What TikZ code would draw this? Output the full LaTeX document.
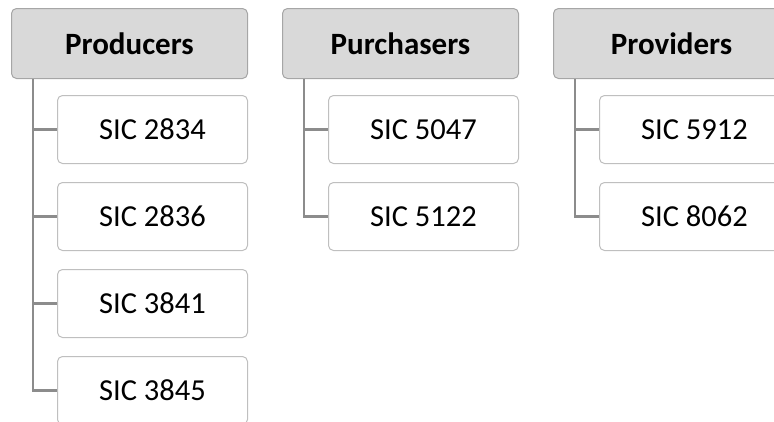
\documentclass[tikz,border=0pt]{standalone}
\usepackage{fontspec}
\setmainfont{Carlito}
\definecolor{hdrfill}{HTML}{D9D9D9}
\definecolor{hdrline}{HTML}{A6A6A6}
\definecolor{boxline}{HTML}{BFBFBF}
\definecolor{linkgray}{HTML}{8C8C8C}
\tikzset{
  hdr/.style={draw=hdrline,fill=hdrfill,rounded corners=5pt,line width=1pt,
    anchor=north west,minimum width=236pt,minimum height=70pt,inner sep=0pt,
    font=\fontsize{31}{33}\selectfont\bfseries},
  sicbox/.style={draw=boxline,fill=white,rounded corners=5pt,line width=1pt,
    anchor=north west,minimum width=190pt,minimum height=68pt,inner sep=0pt,
    font=\fontsize{30.5}{33}\selectfont},
  link/.style={draw=linkgray,line width=2.4pt}
}
\begin{document}
\begin{tikzpicture}[x=1pt,y=-1pt]
  \useasboundingbox (0,0) rectangle (774,421);
  \clip (0,0) rectangle (774,421);
  \node[hdr] (prod) at (11,8) {Producers};
  \node[hdr] (purch) at (282,8) {Purchasers};
  \node[hdr] (prov) at (553,8) {Providers};
  \foreach \g/\x/\k/\c in {prod/57/1/2834, prod/57/2/2836, prod/57/3/3841,
                           prod/57/4/3845, purch/328/1/5047, purch/328/2/5122,
                           prov/599/1/5912, prov/599/2/8062}
  {
    \node[sicbox] (\g\k) at (\x,{95+87*(\k-1)}) {SIC \c};
    \draw[link] ([xshift=22pt]\g.south west) |- (\g\k.west);
  }
\end{tikzpicture}
\end{document}
